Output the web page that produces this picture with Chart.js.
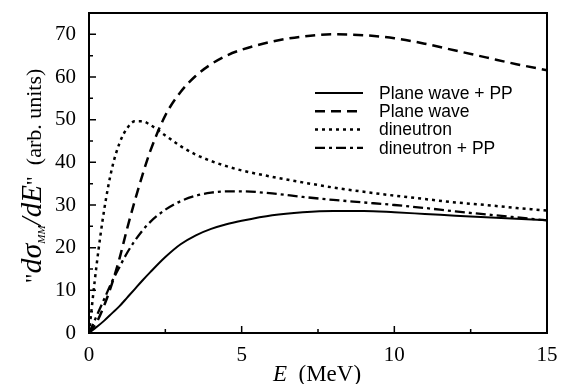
<!DOCTYPE html>
<html>
<head>
<meta charset="utf-8">
<script src="https://cdn.jsdelivr.net/npm/chart.js@4.4.0/dist/chart.umd.min.js"></script>
<style>
  html, body { margin: 0; padding: 0; background: #fff; }
  #wrap { width: 561px; height: 384px; }
</style>
</head>
<body>
<div id="wrap"><canvas id="my-chart" width="561" height="384"></canvas></div>
<script>
'use strict';

// **** Data ****

let energy = [0, 0.25, 0.5, 0.75, 1, 1.25, 1.5, 1.75, 2, 2.5, 3, 3.5, 4, 4.5, 5, 6, 7, 8, 9, 10, 11, 12, 13, 14, 15];

let planeWavePP = [0, 1.4, 2.9, 4.6, 6.3, 8.3, 10.3, 12.3, 14.2, 17.8, 20.8, 22.9, 24.4, 25.5, 26.3, 27.6, 28.3, 28.6, 28.6, 28.3, 27.9, 27.5, 27.1, 26.8, 26.4];
let planeWave = [0, 2.5, 6.5, 11.5, 17.5, 24.5, 31, 37, 42.5, 51, 56.5, 60.3, 63, 65, 66.4, 68.3, 69.5, 70, 69.8, 69.1, 67.8, 66.2, 64.6, 63, 61.6];
let dineutron = [0, 16, 29, 38.5, 44.5, 48, 49.6, 49.6, 48.8, 46.3, 43.8, 41.8, 40.3, 39.1, 38.1, 36.6, 35.3, 34.1, 33.1, 32.2, 31.4, 30.6, 30, 29.3, 28.7];
let dineutronPP = [0, 4, 8, 12, 15.5, 18.8, 21.6, 24, 26, 28.9, 30.9, 32.2, 32.9, 33.2, 33.2, 32.7, 31.9, 31.2, 30.6, 30, 29.3, 28.5, 27.8, 27.1, 26.4];

let seriesNames = ['Plane wave + PP', 'Plane wave', 'dineutron', 'dineutron + PP'];
let xTickLabels = [0, 5, 10, 15];
let yTickLabels = [0, 10, 20, 30, 40, 50, 60, 70];

// **** Styles ****

let lineStyles = [
  { dash: [], width: 2 },
  { dash: [10, 6], width: 2.5 },
  { dash: [3, 4], width: 2.5 },
  { dash: [10, 4, 3, 4], width: 2.3 }
];

function toPoints(values) {
  let pts = [];
  for (let i = 0; i < energy.length; i++) {
    pts.push({ x: energy[i], y: values[i] });
  }
  return pts;
}

let allSeries = [planeWavePP, planeWave, dineutron, dineutronPP];
let datasets = [];
for (let i = 0; i < allSeries.length; i++) {
  datasets.push({
    label: seriesNames[i],
    data: toPoints(allSeries[i]),
    borderColor: '#000',
    borderWidth: lineStyles[i].width,
    borderDash: lineStyles[i].dash,
    pointRadius: 0,
    fill: false,
    cubicInterpolationMode: 'monotone'
  });
}

// **** Plugin: frame, inward ticks, legend, axis titles ****

let decorations = {
  id: 'decorations',
  afterDraw(chart) {
    let c = chart.ctx;
    let a = chart.chartArea;
    let xs = chart.scales.x;
    let ys = chart.scales.y;

    c.save();
    c.strokeStyle = '#000';
    c.lineWidth = 2;
    c.setLineDash([]);
    c.strokeRect(a.left, a.top, a.right - a.left, a.bottom - a.top);

    // inward ticks
    c.lineWidth = 1.5;
    c.beginPath();
    for (let v = 0; v <= 15; v += 2.5) {
      let px = xs.getPixelForValue(v);
      let len = xTickLabels.includes(v) ? 7 : 4;
      c.moveTo(px, a.bottom);
      c.lineTo(px, a.bottom - len);
    }
    for (let v = 0; v <= 70; v += 5) {
      let py = ys.getPixelForValue(v);
      let len = yTickLabels.includes(v) ? 7 : 4;
      c.moveTo(a.left, py);
      c.lineTo(a.left + len, py);
    }
    c.stroke();

    // legend
    let lx0 = 315, lx1 = 363, tx = 379, ly = 93, step = 18.3;
    c.font = '17.5px "Liberation Sans", Arial, sans-serif';
    c.fillStyle = '#000';
    c.textBaseline = 'middle';
    c.textAlign = 'left';
    for (let i = 0; i < seriesNames.length; i++) {
      let y = ly + i * step;
      c.beginPath();
      c.lineWidth = lineStyles[i].width;
      c.setLineDash(lineStyles[i].dash);
      c.moveTo(lx0, y);
      c.lineTo(lx1, y);
      c.stroke();
      c.fillText(seriesNames[i], tx, y + 1);
    }
    c.setLineDash([]);

    // x title
    c.textBaseline = 'alphabetic';
    let serif = '"Liberation Serif", "Times New Roman", serif';
    let partE = 'E';
    let partU = '  (MeV)';
    c.font = 'italic 23px ' + serif;
    let wE = c.measureText(partE).width;
    c.font = '23px ' + serif;
    let wU = c.measureText(partU).width;
    let sx = 317 - (wE + wU) / 2;
    c.font = 'italic 23px ' + serif;
    c.fillText(partE, sx, 381);
    c.font = '23px ' + serif;
    c.fillText(partU, sx + wE, 381);

    // y title
    let pieces = [
      { t: '"', f: '24px ' + serif, dy: 0 },
      { t: 'd\u03C3', f: 'italic 30px ' + serif, dy: 0 },
      { t: 'MM', f: 'italic 11px ' + serif, dy: 4 },
      { t: '/dE', f: 'italic 29px ' + serif, dy: 0 },
      { t: '"  (arb. units)', f: '22px ' + serif, dy: 0 }
    ];
    let total = 0;
    for (let p of pieces) {
      c.font = p.f;
      p.w = c.measureText(p.t).width;
      total += p.w;
    }
    c.translate(41, 176);
    c.rotate(-Math.PI / 2);
    let px = -total / 2;
    for (let p of pieces) {
      c.font = p.f;
      c.fillText(p.t, px, p.dy);
      px += p.w;
    }
    c.restore();
  }
};

// **** Chart ****

let ctx = document.getElementById('my-chart').getContext('2d');

new Chart(ctx, {
  type: 'line',
  data: { datasets: datasets },
  options: {
    responsive: false,
    animation: false,
    layout: { padding: { top: 13, right: 14, left: 0, bottom: 0 } },
    plugins: { legend: { display: false }, tooltip: { enabled: false } },
    scales: {
      x: {
        type: 'linear',
        min: 0,
        max: 15,
        grid: { display: false },
        border: { display: false },
        afterFit(scale) {
          scale.height = 51;
          scale.paddingLeft = 0;
          scale.paddingRight = 0;
        },
        afterBuildTicks(scale) { scale.ticks = xTickLabels.map((v) => ({ value: v })); },
        ticks: {
          maxRotation: 0,
          autoSkip: false,
          padding: 2,
          color: '#000',
          font: { family: '"Liberation Serif", "Times New Roman", serif', size: 21 }
        }
      },
      y: {
        min: 0,
        max: 75,
        grid: { display: false },
        border: { display: false },
        afterFit(scale) {
          scale.width = 89;
          scale.paddingTop = 0;
          scale.paddingBottom = 0;
        },
        afterBuildTicks(scale) { scale.ticks = yTickLabels.map((v) => ({ value: v })); },
        ticks: {
          autoSkip: false,
          padding: 5,
          color: '#000',
          font: { family: '"Liberation Serif", "Times New Roman", serif', size: 21 }
        }
      }
    }
  },
  plugins: [decorations]
});
</script>
</body>
</html>
